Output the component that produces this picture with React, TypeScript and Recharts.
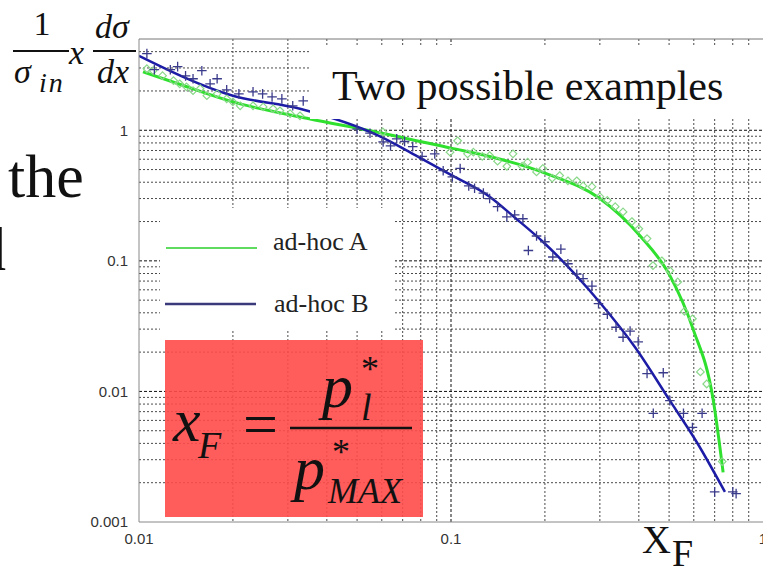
import React from "react";
import { ComposedChart, Line, Scatter, XAxis, YAxis, CartesianGrid } from "recharts";

// axis ticks (log-log)
const xTicks = [0.01, 0.1, 1];
const yTicks = [0.001, 0.01, 0.1, 1];
const topTicks = [0.02, 0.03, 0.04, 0.05, 0.06, 0.07, 0.08, 0.09, 0.1, 0.2, 0.3, 0.4, 0.5, 0.6, 0.7, 0.8, 0.9];

// grid lines
const xMinorGrid = [0.02, 0.03, 0.04, 0.05, 0.06, 0.07, 0.08, 0.09, 0.2, 0.3, 0.4, 0.5, 0.6, 0.7, 0.8, 0.9];
const xMajorGrid = [0.1];
const yMinorGrid = [
  0.002, 0.003, 0.004, 0.005, 0.006, 0.007, 0.008, 0.009,
  0.02, 0.03, 0.04, 0.05, 0.06, 0.07, 0.08, 0.09,
  0.2, 0.3, 0.4, 0.5, 0.6, 0.7, 0.8, 0.9,
  2, 3, 4,
];
const yMajorGrid = [0.01, 0.1, 1];

// fitted curves
const fitA = [
  { x: 0.0103, y: 2.8 }, { x: 0.0135, y: 2.25 }, { x: 0.02, y: 1.65 }, { x: 0.0354, y: 1.22 },
  { x: 0.054, y: 1.0 }, { x: 0.1, y: 0.73 }, { x: 0.133, y: 0.63 }, { x: 0.203, y: 0.464 },
  { x: 0.3, y: 0.3 }, { x: 0.404, y: 0.155 }, { x: 0.503, y: 0.077 }, { x: 0.597, y: 0.03 },
  { x: 0.692, y: 0.0087 }, { x: 0.745, y: 0.0024 },
];
const fitB = [
  { x: 0.01, y: 3.72 }, { x: 0.02, y: 1.84 }, { x: 0.0328, y: 1.46 }, { x: 0.059, y: 0.9 },
  { x: 0.0754, y: 0.66 }, { x: 0.1, y: 0.455 }, { x: 0.133, y: 0.31 }, { x: 0.16, y: 0.215 },
  { x: 0.197, y: 0.14 }, { x: 0.3, y: 0.048 }, { x: 0.389, y: 0.0218 }, { x: 0.503, y: 0.0085 },
  { x: 0.613, y: 0.0041 }, { x: 0.755, y: 0.0017 },
];

// measured points, ad-hoc A (diamonds)
const pointsA = [
  [0.0106, 2.96], [0.0111, 2.86], [0.0119, 2.62], [0.0129, 2.4], [0.0135, 2.27], [0.0142, 2.15],
  [0.0149, 2.01], [0.0157, 2.08], [0.0165, 1.84], [0.0178, 1.9], [0.0191, 1.74], [0.02, 1.65],
  [0.0211, 1.54], [0.0232, 1.54], [0.025, 1.51], [0.0269, 1.46], [0.0283, 1.41], [0.0305, 1.34],
  [0.0328, 1.29], [0.0605, 0.97], [0.0993, 0.68], [0.105, 0.83], [0.113, 0.66], [0.118, 0.68],
  [0.126, 0.63], [0.133, 0.64], [0.141, 0.58], [0.151, 0.53], [0.158, 0.66], [0.169, 0.53],
  [0.176, 0.57], [0.188, 0.48], [0.197, 0.51], [0.211, 0.43], [0.223, 0.45], [0.237, 0.41],
  [0.253, 0.41], [0.265, 0.375], [0.283, 0.37], [0.3, 0.31], [0.317, 0.29], [0.336, 0.26],
  [0.356, 0.237], [0.38, 0.2], [0.4, 0.176], [0.425, 0.148], [0.444, 0.092], [0.474, 0.1],
  [0.503, 0.084], [0.533, 0.069], [0.56, 0.041], [0.594, 0.036], [0.63, 0.0141], [0.66, 0.0114],
  [0.74, 0.0029],
].map(([x, y]) => ({ x, y }));

// measured points, ad-hoc B (crosses)
const pointsB = [
  [0.0106, 3.86], [0.0112, 2.91], [0.0126, 2.91], [0.0133, 3.07], [0.0141, 2.61], [0.0149, 2.48],
  [0.0159, 2.86], [0.0169, 2.27], [0.0178, 2.48], [0.0191, 2.04], [0.0209, 1.9], [0.0232, 1.97],
  [0.0249, 1.9], [0.0267, 1.8], [0.0287, 1.74], [0.0311, 1.54], [0.0336, 1.68], [0.05, 1.02],
  [0.055, 0.95], [0.0606, 0.815], [0.064, 0.76], [0.067, 0.86], [0.071, 0.82], [0.0754, 0.75],
  [0.0808, 0.63], [0.0887, 0.66], [0.0944, 0.49], [0.101, 0.44], [0.107, 0.51], [0.114, 0.375],
  [0.119, 0.36], [0.127, 0.33], [0.133, 0.3], [0.141, 0.26], [0.151, 0.217], [0.16, 0.225],
  [0.17, 0.21], [0.177, 0.12], [0.188, 0.155], [0.2, 0.14], [0.212, 0.107], [0.225, 0.123],
  [0.237, 0.095], [0.253, 0.079], [0.265, 0.073], [0.283, 0.064], [0.297, 0.047], [0.317, 0.039],
  [0.338, 0.031], [0.356, 0.026], [0.375, 0.029], [0.398, 0.024], [0.425, 0.0137], [0.479, 0.0139],
  [0.503, 0.0085], [0.445, 0.0068], [0.556, 0.0068], [0.638, 0.0068], [0.594, 0.0053], [0.7, 0.0017],
  [0.8, 0.0017], [0.82, 0.00165],
].map(([x, y]) => ({ x, y }));

const Diamond = (props: any) => {
  const { cx, cy } = props;
  if (cx == null || cy == null) return null;
  const r = 3.8;
  return (
    <path
      d={`M${cx},${cy - r}L${cx + r},${cy}L${cx},${cy + r}L${cx - r},${cy}Z`}
      fill="none"
      stroke="#8ad88a"
      strokeWidth={1.2}
    />
  );
};

const Cross = (props: any) => {
  const { cx, cy } = props;
  if (cx == null || cy == null) return null;
  const r = 4.8;
  return (
    <path
      d={`M${cx - r},${cy}H${cx + r}M${cx},${cy - r}V${cy + r}`}
      stroke="#3b3b8c"
      strokeWidth={1.3}
    />
  );
};

const serif = "'Liberation Serif', 'Times New Roman', serif";
const tickFont = { fill: "#333", fontSize: 15, fontFamily: "'Liberation Sans', Arial, sans-serif" };

export default function App() {
  return (
    <div style={{ position: "absolute", left: 0, top: 0, width: 763, height: 568, overflow: "hidden", background: "#fff" }}>
      <ComposedChart width={763} height={568} margin={{ top: 39, right: 0, bottom: 0, left: 0 }}>
        <CartesianGrid
          horizontalValues={yMinorGrid}
          verticalValues={xMinorGrid}
          stroke="#4a4a4a"
          strokeDasharray="2 2"
        />
        <CartesianGrid
          horizontalValues={yMajorGrid}
          verticalValues={xMajorGrid}
          stroke="#111"
          strokeDasharray="3 2"
        />
        <XAxis
          dataKey="x"
          type="number"
          scale="log"
          domain={[0.01, 1]}
          ticks={xTicks}
          interval={0}
          allowDataOverflow
          height={46}
          tickLine={false}
          tickSize={6}
          tickMargin={5}
          stroke="#888"
          tick={tickFont}
          tickFormatter={(v) => String(v)}
        />
        {/* frame on top with inward minor ticks */}
        <XAxis
          xAxisId="top"
          orientation="top"
          dataKey="x"
          type="number"
          scale="log"
          domain={[0.01, 1]}
          ticks={topTicks}
          interval={0}
          allowDataOverflow
          height={1}
          mirror
          tick={false}
          tickSize={5}
          stroke="#777"
        />
        <YAxis
          dataKey="y"
          type="number"
          scale="log"
          domain={[0.001, 5]}
          ticks={yTicks}
          interval={0}
          allowDataOverflow
          width={139}
          tickLine={false}
          tickSize={6}
          tickMargin={5}
          stroke="#888"
          tick={tickFont}
          tickFormatter={(v) => String(v)}
        />
        <Scatter data={pointsA} shape={Diamond} isAnimationActive={false} />
        <Scatter data={pointsB} shape={Cross} isAnimationActive={false} />
        <Line data={fitA} dataKey="y" type="monotone" stroke="#2fe02f" strokeWidth={3} dot={false} isAnimationActive={false} />
        <Line data={fitB} dataKey="y" type="monotone" stroke="#1c1ca6" strokeWidth={2.5} dot={false} isAnimationActive={false} />
      </ComposedChart>

      <svg width={763} height={568} style={{ position: "absolute", left: 0, top: 0, pointerEvents: "none" }}>
        {/* y label: (1/sigma_in) x dsigma/dx */}
        <g fontFamily={serif} fill="#111">
          <text x={42} y={35} fontSize={34} textAnchor="middle">1</text>
          <line x1={13} x2={69} y1={51} y2={51} stroke="#111" strokeWidth={1.8} />
          <text x={14} y={83} fontSize={34} fontStyle="italic">σ</text>
          <text x={39} y={92} fontSize={28} fontStyle="italic" letterSpacing={2}>in</text>
          <text x={69} y={64} fontSize={34} fontStyle="italic">x</text>
          <text x={95} y={38} fontSize={34} fontStyle="italic">dσ</text>
          <line x1={93} x2={136} y1={51} y2={51} stroke="#111" strokeWidth={1.8} />
          <text x={97} y={83} fontSize={34} fontStyle="italic">dx</text>
        </g>

        {/* slide text on the left */}
        <text x={8} y={197} fontSize={62} fontFamily={serif} fill="#111">the</text>
        <text x={-25} y={270} fontSize={62} fontFamily={serif} fill="#111">d</text>

        {/* caption box */}
        <rect x={310} y={45} width={453} height={74} fill="#fff" />
        <text x={332} y={100} fontSize={42} fontFamily={serif} fill="#111">Two possible examples</text>

        {/* legend */}
        <rect x={160} y={208} width={235} height={122} fill="#fff" />
        <line x1={166} x2={257} y1={248} y2={248} stroke="#5fdc5f" strokeWidth={2} />
        <text x={273} y={250} fontSize={26} fontFamily={serif} fill="#222">ad-hoc A</text>
        <line x1={165} x2={256} y1={304} y2={304} stroke="#3a3a7a" strokeWidth={2.5} />
        <text x={274} y={312} fontSize={26} fontFamily={serif} fill="#222">ad-hoc B</text>

        {/* x_F definition */}
        <rect x={165} y={340} width={258} height={177} fill="#ff4a4a" opacity={0.9} />
        <g fontFamily={serif} fill="#111" fontStyle="italic">
          <text x={173} y={441} fontSize={62}>x</text>
          <text x={198} y={458} fontSize={38}>F</text>
          <text x={243} y={445} fontSize={62} fontStyle="normal">=</text>
          <line x1={290} x2={412} y1={428} y2={428} stroke="#111" strokeWidth={2.5} />
          <text x={322} y={407} fontSize={62}>p</text>
          <text x={361} y={420} fontSize={38}>l</text>
          <text x={361} y={381} fontSize={36} fontStyle="normal">*</text>
          <text x={294} y={489} fontSize={62}>p</text>
          <text x={332} y={464} fontSize={36} fontStyle="normal">*</text>
          <text x={328} y={503} fontSize={36}>MAX</text>
        </g>

        {/* x axis name */}
        <text x={642} y={553} fontSize={40} fontFamily={serif} fill="#111">X</text>
        <text x={672} y={566} fontSize={38} fontFamily={serif} fill="#111">F</text>
      </svg>
    </div>
  );
}
